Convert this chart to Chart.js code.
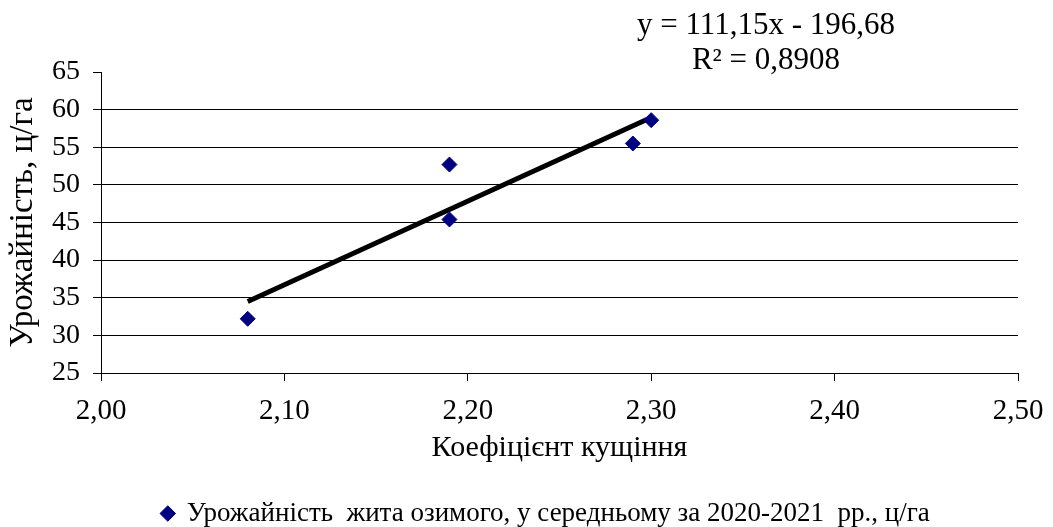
<!DOCTYPE html>
<html>
<head>
<meta charset="utf-8">
<script src="https://cdn.jsdelivr.net/npm/chart.js@4/dist/chart.umd.min.js"></script>
<style>
  html, body { margin: 0; padding: 0; background: #fff; }
  #wrap { width: 1053px; height: 527px; }
</style>
</head>
<body>
<div id="wrap"><canvas id="myChart"></canvas></div>
<script>
// значення
const kushchennia = [2.08, 2.19, 2.19, 2.29, 2.30];
const vrozhainist = [32.2, 52.7, 45.4, 55.5, 58.6];
// лінія тренду (y = 111,15x - 196,68)
const trendSlope = 111.15;
const trendIntercept = -196.68;
const trendX = [2.08, 2.30];
const eqLines = ['y = 111,15x - 196,68', 'R² = 0,8908'];
const seriesLabel = 'Урожайність  жита озимого, у середньому за 2020-2021  рр., ц/га';

const FONT = "'Liberation Serif', 'Times New Roman', serif";

const points = kushchennia.map((x, i) => ({ x: x, y: vrozhainist[i] }));
const trendPoints = trendX.map((x) => ({ x: x, y: trendSlope * x + trendIntercept }));

// підпис рівняння тренду
const equationPlugin = {
  id: 'equation',
  afterLayout(chart) {
    // легенда трохи правіше, як в оригіналі
    if (chart.legend) {
      chart.legend.left += 37;
      chart.legend.right += 37;
    }
  },
  afterDraw(chart) {
    const ctx = chart.ctx;
    ctx.save();
    ctx.fillStyle = '#000';
    ctx.font = '31px ' + FONT;
    ctx.textAlign = 'center';
    ctx.textBaseline = 'middle';
    ctx.fillText(eqLines[0], 766, 26);
    ctx.fillText(eqLines[1], 766, 61);
    ctx.restore();
  },
};

const config = {
  type: 'scatter',
  data: {
    datasets: [
      {
        label: seriesLabel,
        data: points,
        backgroundColor: '#000080',
        borderColor: '#000080',
        pointStyle: 'rectRot',
        pointRadius: 7.5,
        pointHoverRadius: 7.5,
        order: 1,
      },
      {
        label: 'trend',
        type: 'line',
        data: trendPoints,
        borderColor: '#000',
        borderWidth: 5,
        pointRadius: 0,
        fill: false,
        order: 2,
      },
    ],
  },
  options: {
    responsive: true,
    maintainAspectRatio: false,
    animation: false,
    layout: { padding: { top: 72, right: 35, bottom: -10, left: 0 } },
    plugins: {
      tooltip: { enabled: false },
      legend: {
        position: 'bottom',
        labels: {
          filter: (item) => item.datasetIndex === 0,
          usePointStyle: true,
          boxHeight: 11,
          boxWidth: 11,
          color: '#000',
          font: { family: FONT, size: 27, lineHeight: 1 },
          padding: 2,
        },
      },
    },
    scales: {
      x: {
        type: 'linear',
        min: 2.0,
        max: 2.5,
        ticks: {
          stepSize: 0.1,
          color: '#000',
          font: { family: FONT, size: 29 },
          padding: 13,
          maxRotation: 0,
          callback: (v) => v.toFixed(2).replace('.', ','),
        },
        grid: { drawOnChartArea: false, drawTicks: true, tickLength: 8, color: '#000' },
        border: { display: true, color: '#000', width: 1 },
        title: {
          display: true,
          text: 'Коефіцієнт кущіння',
          color: '#000',
          font: { family: FONT, size: 30 },
          padding: { top: 0, bottom: 32 },
        },
        afterFit: (scale) => {
          scale.height = 125;
          scale.paddingLeft = 0;
          scale.paddingRight = 0;
        },
      },
      y: {
        min: 25,
        max: 65,
        ticks: {
          stepSize: 5,
          color: '#000',
          font: { family: FONT, size: 28 },
          padding: 13,
        },
        grid: {
          color: (c) => (c.tick && c.tick.value === 65 ? 'rgba(0,0,0,0)' : '#000'),
          tickColor: '#000',
          lineWidth: 1,
          tickLength: 8,
        },
        border: { display: true, color: '#000', width: 1 },
        title: {
          display: true,
          text: 'Урожайність, ц/га',
          color: '#000',
          font: { family: FONT, size: 33 },
          padding: { top: 4, bottom: 0 },
        },
        afterFit: (scale) => {
          scale.width = 101;
          scale.paddingTop = 0;
          scale.paddingBottom = 0;
        },
      },
    },
  },
  plugins: [equationPlugin],
};

const myChart = new Chart(document.getElementById('myChart'), config);
</script>
</body>
</html>
